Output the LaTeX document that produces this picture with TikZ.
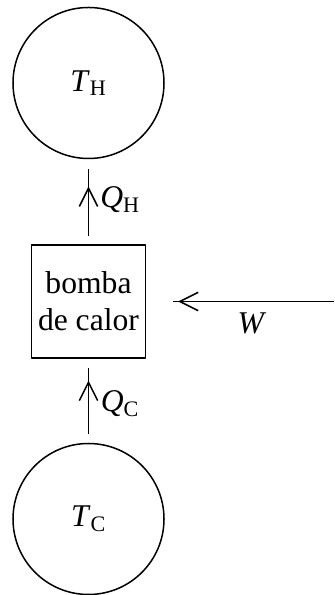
\documentclass[tikz,border=0pt]{standalone}
\usepackage{fontspec}
\setmainfont{Liberation Serif}
\usetikzlibrary{arrows.meta,decorations.markings}
\begin{document}
\begin{tikzpicture}[x=0.03cm,y=0.03cm,line width=0.045cm,line join=round,
    every node/.style={font=\fontsize{27}{31.5}\selectfont},
    reserv/.style={draw,circle,minimum size=4.53cm,inner sep=0pt},
    maquina/.style={draw,minimum width=3.42cm,minimum height=3.39cm,inner sep=0pt,align=center},
    fluxo/.style={postaction={decorate},decoration={markings,
        mark=at position #1 with {\arrow{Straight Barb[length=0.55cm,width=0.55cm]}}}}]
    \def\mybcx{88.5}\def\mybcy{293.5}
    \def\myqy{512}\def\myfy{76}
    \useasboundingbox (0,0) rectangle (334,595);
    \node[reserv] (nquente) at (\mybcx,\myqy) {\textit{T}\textsubscript{H}};
    \node[reserv] (nfrio) at (\mybcx,\myfy) {\textit{T}\textsubscript{C}};
    \node[maquina] (nbomba) at (\mybcx,\mybcy) {bomba\\de calor};
    \coordinate (ntrab) at (334,\mybcy);
    \draw[fluxo=0.68,shorten <=0.24cm,shorten >=0.28cm] (nbomba.north) -- (nquente.south);
    \draw[fluxo=0.74,shorten <=0.25cm,shorten >=0.27cm] (nfrio.north) -- (nbomba.south);
    \draw[fluxo=0.83,shorten >=0.81cm] (ntrab) -- (nbomba.east);
    \node (nqh) at (120,395) {\textit{Q}\textsubscript{H}};
    \node (nqc) at (120,191) {\textit{Q}\textsubscript{C}};
    \node (nw) at (252,272) {\textit{W}};
\end{tikzpicture}
\end{document}
